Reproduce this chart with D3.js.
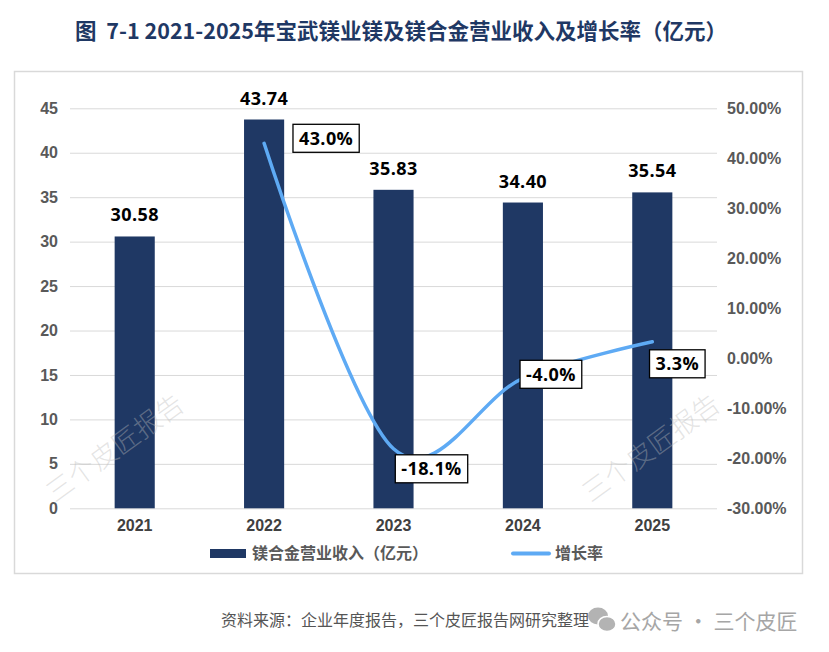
<!DOCTYPE html>
<html>
<head>
<meta charset="utf-8">
<script src="https://cdn.jsdelivr.net/npm/d3@7"></script>
<style>
  body { margin: 0; background: #fff; }
  svg { display: block; font-family: "Open Sans", "Noto Sans CJK SC", sans-serif; }
</style>
</head>
<body>
<div id="chart"></div>
<script>
const years = ["2021", "2022", "2023", "2024", "2025"];
const revenue = [30.58, 43.74, 35.83, 34.40, 35.54];
const growth = [null, 43.0, -18.1, -4.0, 3.3];
const leftTicks = [0, 5, 10, 15, 20, 25, 30, 35, 40, 45];
const rightTicks = [-30, -20, -10, 0, 10, 20, 30, 40, 50];

const W = 829, H = 652;
const plot = { left: 70, right: 717, top: 108.3, bottom: 508.3 };
const barColor = "#1f3864";
const lineColor = "#5eaaf4";

// where each growth label box sits relative to its point (center offset)
const labelShift = [null, [62, -5], [38, 20], [28, -4], [25, 22]];

const svg = d3.select("#chart").append("svg")
    .attr("width", W)
    .attr("height", H)
    .attr("viewBox", `0 0 ${W} ${H}`);

svg.append("rect").attr("width", W).attr("height", H).attr("fill", "#fff");

// title
svg.append("text")
    .attr("x", 401)
    .attr("y", 39)
    .attr("text-anchor", "middle")
    .attr("fill", "#1f3864")
    .style("white-space", "pre")
    .style("font-family", "'Noto Sans CJK SC', sans-serif")
    .style("font-weight", 700)
    .style("font-size", "21.5px")
    .text("图  7-1 2021-2025年宝武镁业镁及镁合金营业收入及增长率（亿元）");

// chart frame
svg.append("rect")
    .attr("x", 14.5).attr("y", 71.5)
    .attr("width", 788).attr("height", 502)
    .attr("fill", "none")
    .attr("stroke", "#d9d9d9")
    .attr("stroke-width", 1.5);

const x = d3.scaleBand()
    .domain(years)
    .range([plot.left, plot.right])
    .paddingInner(0.69)
    .paddingOuter(0.345);

const y = d3.scaleLinear().domain([0, 45]).range([plot.bottom, plot.top]);
const y2 = d3.scaleLinear().domain([-30, 50]).range([plot.bottom, plot.top]);

// gridlines
svg.append("g")
    .attr("transform", `translate(${plot.left},0)`)
    .call(d3.axisLeft(y).tickValues(leftTicks).tickSize(-(plot.right - plot.left)).tickFormat(""))
    .call(g => g.select(".domain").remove())
    .call(g => g.selectAll("line").attr("stroke", "#d9d9d9").attr("stroke-width", 1));

// bars
svg.append("g").selectAll("rect")
    .data(years)
    .join("rect")
    .attr("x", d => x(d))
    .attr("y", (d, i) => y(revenue[i]))
    .attr("width", x.bandwidth())
    .attr("height", (d, i) => y(0) - y(revenue[i]))
    .attr("fill", barColor);

// watermarks, drawn over the bars
[[115, 448], [651, 448]].forEach(([cx, cy]) => {
    svg.append("text")
        .attr("transform", `translate(${cx},${cy}) rotate(-36)`)
        .attr("text-anchor", "middle")
        .attr("dy", "0.35em")
        .attr("fill", "#bbbbbb")
        .attr("fill-opacity", 0.4)
        .style("font-family", "'Noto Sans CJK SC', sans-serif")
        .style("font-weight", 300)
        .style("font-size", "27px")
        .text("三个皮匠报告");
});

// bar value labels
svg.append("g").selectAll("text")
    .data(years)
    .join("text")
    .attr("x", d => x(d) + x.bandwidth() / 2)
    .attr("y", (d, i) => y(revenue[i]) - 15)
    .attr("text-anchor", "middle")
    .attr("fill", "#000")
    .style("font-weight", 700)
    .style("font-size", "18px")
    .style("letter-spacing", "0.4px")
    .text((d, i) => revenue[i].toFixed(2));

// axes
const axisText = g => g.selectAll("text")
    .attr("fill", "#595959")
    .style("font-weight", 700)
    .style("font-size", "16px");

svg.append("g")
    .attr("transform", `translate(${plot.left},0)`)
    .call(d3.axisLeft(y).tickValues(leftTicks).tickSize(0).tickPadding(12))
    .call(g => g.select(".domain").remove())
    .call(axisText);

svg.append("g")
    .attr("transform", `translate(${plot.right},0)`)
    .call(d3.axisRight(y2).tickValues(rightTicks).tickSize(0).tickPadding(10)
        .tickFormat(d => d.toFixed(2) + "%"))
    .call(g => g.select(".domain").remove())
    .call(axisText);

svg.append("g")
    .attr("transform", `translate(0,${plot.bottom})`)
    .call(d3.axisBottom(x).tickSize(0).tickPadding(11))
    .call(g => g.select(".domain").remove())
    .call(g => g.selectAll("text")
        .attr("fill", "#404040")
        .style("font-weight", 700)
        .style("font-size", "16px"));

// growth line
const pts = years.map((d, i) => ({ year: d, v: growth[i], i }))
    .filter(p => p.v !== null);

const line = d3.line()
    .x(p => x(p.year) + x.bandwidth() / 2)
    .y(p => y2(p.v))
    .curve(d3.curveCardinal.tension(0));

svg.append("path")
    .datum(pts)
    .attr("d", line)
    .attr("fill", "none")
    .attr("stroke", lineColor)
    .attr("stroke-width", 3.5)
    .attr("stroke-linecap", "round");

// growth labels in boxes
pts.forEach(p => {
    const [dx, dy] = labelShift[p.i];
    const cx = x(p.year) + x.bandwidth() / 2 + dx;
    const cy = y2(p.v) + dy;
    const g = svg.append("g");
    const box = g.append("rect")
        .attr("fill", "#fff")
        .attr("stroke", "#000")
        .attr("stroke-width", 1.3);
    const t = g.append("text")
        .attr("x", cx)
        .attr("y", cy)
        .attr("dy", "0.36em")
        .attr("text-anchor", "middle")
        .attr("fill", "#000")
        .style("font-weight", 700)
        .style("font-size", "18px")
        .style("letter-spacing", "0.4px")
        .text(p.v.toFixed(1) + "%");
    const w = t.node().getComputedTextLength() + 12;
    box.attr("x", cx - w / 2).attr("y", cy - 14).attr("width", w).attr("height", 28);
});

// legend
const legend = svg.append("g");
legend.append("rect")
    .attr("x", 210).attr("y", 549)
    .attr("width", 36).attr("height", 9)
    .attr("fill", barColor);
legend.append("text")
    .attr("x", 252).attr("y", 559)
    .attr("fill", "#595959")
    .style("font-family", "'Noto Sans CJK SC', sans-serif")
    .style("font-weight", 700)
    .style("font-size", "16px")
    .text("镁合金营业收入（亿元）");
legend.append("line")
    .attr("x1", 513).attr("x2", 549)
    .attr("y1", 553.5).attr("y2", 553.5)
    .attr("stroke", lineColor)
    .attr("stroke-width", 4)
    .attr("stroke-linecap", "round");
legend.append("text")
    .attr("x", 555).attr("y", 559)
    .attr("fill", "#595959")
    .style("font-family", "'Noto Sans CJK SC', sans-serif")
    .style("font-weight", 700)
    .style("font-size", "16px")
    .text("增长率");

// source note
svg.append("text")
    .attr("x", 221).attr("y", 626)
    .attr("fill", "#555")
    .style("font-family", "'Noto Sans CJK SC', sans-serif")
    .style("font-size", "16px")
    .text("资料来源：企业年度报告，三个皮匠报告网研究整理");

// wechat-style icon
const icon = svg.append("g").attr("fill", "#b3b3b3");
icon.append("ellipse").attr("cx", 598).attr("cy", 616).attr("rx", 10).attr("ry", 8.5);
icon.append("ellipse").attr("cx", 607).attr("cy", 624).attr("rx", 9).attr("ry", 7.5)
    .attr("stroke", "#fff").attr("stroke-width", 1.5);

svg.append("text")
    .attr("x", 620).attr("y", 629)
    .attr("fill", "#a6a6a6")
    .style("white-space", "pre")
    .style("font-family", "'Noto Sans CJK SC', sans-serif")
    .style("font-size", "21px")
    .text("公众号 · 三个皮匠");
</script>
</body>
</html>
